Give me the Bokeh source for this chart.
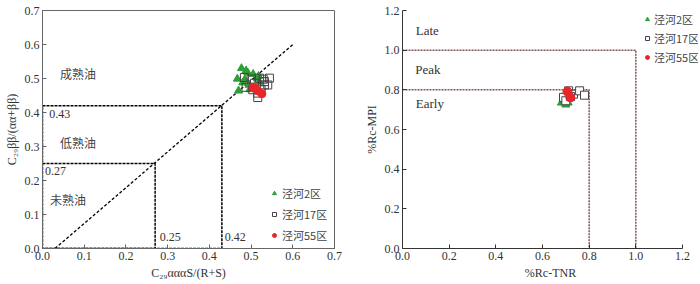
from bokeh.plotting import figure
from bokeh.layouts import row
from bokeh.models import Legend, LegendItem, Range1d, FixedTicker, PrintfTickFormatter
from bokeh.core.properties import value
from bokeh.embed import file_html
from bokeh.resources import INLINE

# ---------------- data: left panel (C29 sterane ratios) ----------------
jh2_x = [0.477, 0.488, 0.492, 0.505, 0.467, 0.480, 0.518, 0.495, 0.470, 0.497, 0.520, 0.515, 0.508, 0.485]
jh2_y = [0.530, 0.523, 0.517, 0.513, 0.499, 0.488, 0.507, 0.481, 0.464, 0.468, 0.490, 0.500, 0.474, 0.497]
jh17_x = [0.484, 0.500, 0.520, 0.544, 0.532, 0.508, 0.540, 0.488, 0.524, 0.516, 0.516, 0.532, 0.504, 0.529]
jh17_y = [0.503, 0.498, 0.501, 0.501, 0.491, 0.486, 0.481, 0.474, 0.467, 0.457, 0.444, 0.481, 0.467, 0.498]
jh55_x = [0.505, 0.517, 0.526, 0.511]
jh55_y = [0.474, 0.463, 0.455, 0.470]

# thresholds / boundary lines
low_x, low_y = 0.27, 0.25
mat_x, mat_y = 0.43, 0.42
diag_x = [0.03, 0.60]
diag_y = [0.00, 0.60]

zone_text = ["成熟油", "低熟油", "未熟油"]
zone_x = [0.042, 0.042, 0.018]
zone_y = [0.516, 0.312, 0.143]

num_text = ["0.43", "0.27", "0.25", "0.42"]
num_x = [0.016, 0.006, 0.281, 0.437]
num_y = [0.397, 0.227, 0.035, 0.035]

ticks_left = [0.0, 0.1, 0.2, 0.3, 0.4, 0.5, 0.6, 0.7]

# ---------------- data: right panel (%Rc) ----------------
r_jh2_x = [0.681, 0.695, 0.710, 0.688, 0.700, 0.715, 0.722, 0.690, 0.700, 0.705]
r_jh2_y = [0.735, 0.735, 0.735, 0.755, 0.755, 0.755, 0.770, 0.745, 0.725, 0.765]
r_jh17_x = [0.690, 0.712, 0.733, 0.759, 0.780, 0.700, 0.720]
r_jh17_y = [0.762, 0.795, 0.778, 0.795, 0.773, 0.745, 0.766]
r_jh55_x = [0.707, 0.719]
r_jh55_y = [0.791, 0.762]

early_lim = 0.8
peak_lim = 1.0

stage_text = ["Late", "Peak", "Early"]
stage_x = [0.057, 0.055, 0.057]
stage_y = [1.10, 0.905, 0.73]

ticks_right = [0.0, 0.2, 0.4, 0.6, 0.8, 1.0, 1.2]

series_names = ["泾河2区", "泾河17区", "泾河55区"]

GREEN = "#2e9e36"
RED = "#e8262a"
SQ = "#4a4048"
SERIF = "Liberation Serif"
CJK = "Noto Sans CJK SC"


def style_axes(p, ticks, axis_color):
    for ax in (p.xaxis[0], p.yaxis[0]):
        ax.ticker = FixedTicker(ticks=ticks)
        ax.formatter = PrintfTickFormatter(format="%.1f")
        ax.major_tick_in = 4
        ax.major_tick_out = 0
        ax.minor_tick_line_color = None
        ax.axis_line_color = axis_color
        ax.major_tick_line_color = axis_color
        ax.major_label_text_font = SERIF
        ax.major_label_text_font_size = "12px"
        ax.major_label_text_color = "#333333"
        ax.major_label_standoff = 3
        ax.axis_label_text_font = SERIF
        ax.axis_label_text_font_size = "12px"
        ax.axis_label_text_font_style = "normal"
        ax.axis_label_text_color = "#333333"
        ax.axis_label_standoff = 3
    p.grid.visible = False


# ---------------- left figure ----------------
p1 = figure(width=350, height=282, x_range=Range1d(0, 0.7), y_range=Range1d(0, 0.7),
            output_backend="svg", toolbar_location=None,
            min_border_left=42, min_border_right=16, min_border_top=10, min_border_bottom=32)
style_axes(p1, ticks_left, "#666666")
p1.outline_line_color = "#666666"
p1.xaxis.axis_label = "C₂₉αααS/(R+S)"
p1.yaxis.axis_label = "C₂₉ββ/(αα+ββ)"

p1.line([0, mat_x, mat_x, 0, 0], [mat_y, mat_y, 0, 0, mat_y],
        line_color="black", line_dash="3 1", line_width=1.5)
p1.line([0, low_x, low_x, 0], [low_y, low_y, 0, 0],
        line_color="black", line_dash="3 1", line_width=1.5)
p1.line(diag_x, diag_y, line_color="black", line_dash="3 2", line_width=1.3)

p1.text(zone_x, zone_y, text=zone_text, text_font=value(CJK), text_font_size="12px",
        text_color="#444444", text_baseline="middle", text_align="left")
p1.text(num_x, num_y, text=num_text, text_font=value(SERIF), text_font_size="12px",
        text_color="#333333", text_baseline="middle", text_align="left")

a1 = p1.scatter(jh2_x, jh2_y, marker="triangle", size=8, fill_color=GREEN, line_color=GREEN)
b1 = p1.scatter(jh17_x, jh17_y, marker="square", size=8, fill_color=None, line_color=SQ, line_width=1)
c1 = p1.scatter(jh55_x, jh55_y, marker="circle", size=8, fill_color=RED, line_color=RED)

leg1 = Legend(items=[LegendItem(label=series_names[0], renderers=[a1]),
                     LegendItem(label=series_names[1], renderers=[b1]),
                     LegendItem(label=series_names[2], renderers=[c1])],
              location=(227, 5), padding=0, margin=0, spacing=5, glyph_width=10, glyph_height=14,
              label_height=14, label_standoff=3, label_text_font=CJK, label_text_font_size="11px",
              label_text_color="#444444", background_fill_alpha=0, border_line_color=None)
p1.add_layout(leg1)

# ---------------- right figure ----------------
p2 = figure(width=348, height=282, x_range=Range1d(0, 1.2686), y_range=Range1d(0, 1.2),
            output_backend="svg", toolbar_location=None,
            min_border_left=52, min_border_right=0, min_border_top=5, min_border_bottom=30)
style_axes(p2, ticks_right, "#333333")
p2.xaxis.bounds = (0, 1.2)
p2.outline_line_color = None
p2.xaxis.axis_label = "%Rc-TNR"
p2.yaxis.axis_label = "%Rc-MPI"

DOT = "#7d5656"
p2.line([0, peak_lim, peak_lim], [peak_lim, peak_lim, 0], line_color=DOT, line_dash="2 1", line_width=1.5)
p2.line([0, early_lim, early_lim], [early_lim, early_lim, 0], line_color=DOT, line_dash="2 1", line_width=1.5)

p2.text(stage_x, stage_y, text=stage_text, text_font=value(SERIF), text_font_size="13px",
        text_color="#333333", text_baseline="middle", text_align="left")

a2 = p2.scatter(r_jh2_x, r_jh2_y, marker="triangle", size=8, fill_color=GREEN, line_color=GREEN)
b2 = p2.scatter(r_jh17_x, r_jh17_y, marker="square", size=8, fill_color="white", line_color=SQ, line_width=1)
c2 = p2.scatter(r_jh55_x, r_jh55_y, marker="circle", size=9, fill_color=RED, line_color=RED)

leg2 = Legend(items=[LegendItem(label=series_names[0], renderers=[a2]),
                     LegendItem(label=series_names[1], renderers=[b2]),
                     LegendItem(label=series_names[2], renderers=[c2])],
              location=(240, 183), padding=0, margin=0, spacing=3, glyph_width=10, glyph_height=14,
              label_height=14, label_standoff=2, label_text_font=CJK, label_text_font_size="11px",
              label_text_color="#444444", background_fill_alpha=0, border_line_color=None)
p2.add_layout(leg2)

layout = row(p1, p2, spacing=0)
open("out.html", "w").write(file_html(layout, INLINE))
